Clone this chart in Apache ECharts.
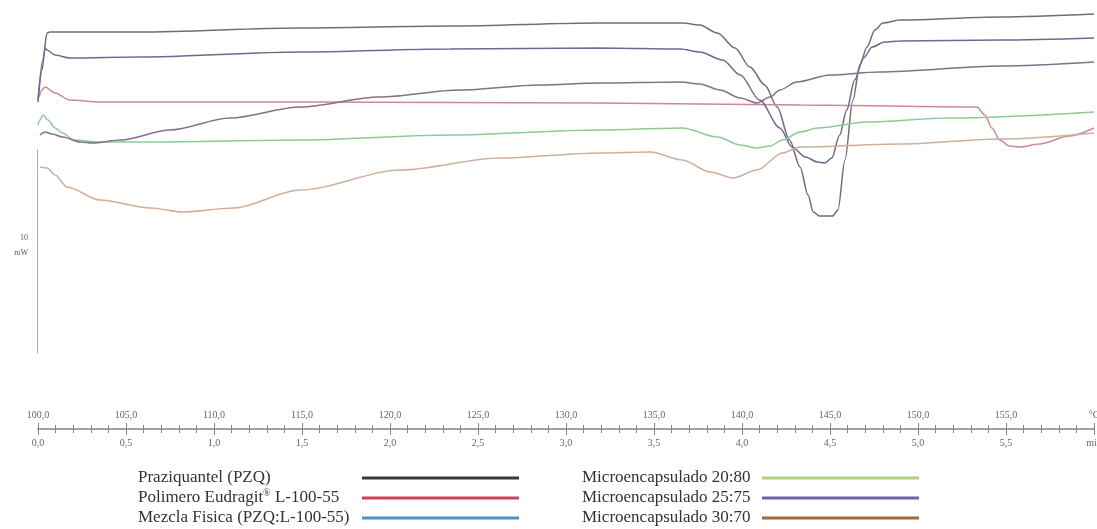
<!DOCTYPE html>
<html>
<head>
<meta charset="utf-8">
<script src="https://cdn.jsdelivr.net/npm/echarts@6/dist/echarts.min.js"></script>
<style>
  html, body { margin: 0; background: #fff; }
  #chart { width: 1097px; height: 529px; }
</style>
</head>
<body>
<div id="chart"></div>
<script>
// temperature (°C) / heat flow (offset mW)
const praziquantel = [[100.0,30.0],[100.28,34.0],[100.51,36.7],[100.68,36.8],[105.8,36.8],[114.9,37.2],[123.4,37.4],[131.9,37.7],[136.6,37.7],[137.6,37.5],[138.6,36.7],[139.6,35.2],[140.45,33.3],[141.3,31.5],[142.0,29.3],[142.7,26.0],[143.3,23.3],[143.75,20.5],[144.05,18.8],[144.4,18.4],[145.15,18.4],[145.45,19.0],[145.85,24.0],[146.3,30.0],[146.7,33.5],[147.1,35.3],[147.55,37.0],[148.0,37.7],[149.0,38.0],[154.7,38.3],[160,38.6]];
const mezcla = [[100.0,29.8],[100.23,33.0],[100.4,35.2],[100.51,35.0],[100.97,34.5],[101.8,34.2],[105.8,34.3],[114.9,34.8],[123.4,35.1],[131.9,35.2],[136.5,35.1],[137.6,34.8],[138.9,34.0],[139.9,32.5],[141.0,30.0],[142.15,27.2],[142.85,25.3],[143.6,24.3],[144.3,23.8],[144.7,23.7],[145.1,24.2],[145.55,26.5],[145.95,29.0],[146.4,32.0],[146.9,34.2],[147.4,35.3],[148.1,35.8],[149.0,35.9],[154.7,36.0],[160,36.2]];
const polimero = [[100.06,30.3],[100.23,31.0],[100.4,31.3],[100.97,30.7],[101.8,30.0],[103.5,29.8],[114.9,29.8],[131.9,29.7],[143.3,29.5],[153.35,29.3],[153.8,28.5],[154.2,27.2],[154.65,26.0],[155.2,25.4],[155.8,25.3],[156.9,25.6],[158.6,26.4],[160,27.2]];
const micro2080 = [[100.0,27.5],[100.11,28.0],[100.28,28.5],[100.57,28.0],[100.97,27.2],[101.4,26.7],[102.0,26.0],[103.5,25.8],[106.4,25.8],[114.9,26.0],[123.4,26.5],[131.9,27.0],[136.6,27.2],[138.6,26.3],[139.9,25.5],[140.85,25.2],[141.6,25.4],[142.3,26.0],[143.3,26.8],[144.3,27.2],[147.1,27.8],[151.8,28.2],[160,28.8]];
const micro2575 = [[100.11,26.5],[100.4,26.8],[100.8,26.6],[101.4,26.3],[102.4,25.8],[103.1,25.7],[104.7,26.0],[107.5,27.0],[110.9,28.2],[114.9,29.3],[119.4,30.3],[124.0,31.0],[128.5,31.5],[131.9,31.7],[136.5,31.8],[137.6,31.6],[138.75,31.0],[139.9,30.2],[140.85,29.7],[141.6,30.3],[142.15,31.0],[143.1,31.8],[145.0,32.5],[147.8,32.8],[154.7,33.4],[160,33.8]];
const micro3070 = [[100.11,23.3],[100.51,23.2],[100.97,22.5],[101.65,21.3],[103.5,20.0],[106.4,19.2],[108.2,18.8],[111.1,19.2],[114.9,21.0],[120.6,23.0],[126.25,24.2],[131.9,24.7],[134.8,24.8],[136.6,24.0],[138.2,22.8],[139.5,22.2],[140.85,23.0],[142.3,24.7],[143.3,25.3],[149.0,25.6],[154.7,26.1],[160,26.7]];
const inicio = [[99.75,4.4],[99.94,4.7],[99.94,25.0],[99.75,25.4]];

const serieNames = ['Praziquantel (PZQ)', 'Polimero Eudragit® L-100-55', 'Mezcla Fisica (PZQ:L-100-55)',
  'Microencapsulado 20:80', 'Microencapsulado 25:75', 'Microencapsulado 30:70'];
const serieData = [praziquantel, polimero, mezcla, micro2080, micro2575, micro3070];
const curveColors = ['#6e6e78', '#cc8896', '#6c6a92', '#8ccb94', '#84708c', '#cfae9c'];
const legendColors = ['#3a3a3a', '#cc4455', '#4a90d0', '#b0d080', '#7060a8', '#9a6a40'];

const tempMin = 100, tempMax = 160, tempStep = 5;
const timeMin = 0, timeMax = 6, timeStep = 0.5;

const chart = echarts.init(document.getElementById('chart'));

const fmtNum = v => v.toFixed(1).replace('.', ',');
const serif = '"Liberation Serif", "DejaVu Serif", serif';

const series = serieData.map((d, i) => ({
  name: serieNames[i],
  type: 'line',
  data: d,
  smooth: 0.3,
  smoothMonotone: 'x',
  symbol: 'none',
  lineStyle: { color: curveColors[i], width: 1.5 },
  itemStyle: { color: curveColors[i] },
  silent: true
}));
series.push({
  type: 'line',
  data: inicio,
  clip: false,
  symbol: 'none',
  lineStyle: { color: '#8a8a8a', width: 1.5 },
  silent: true
});

function legendBlock(names, colors, left) {
  return {
    left: left, top: 476.5,
    orient: 'vertical',
    align: 'left',
    icon: 'rect',
    itemWidth: 157, itemHeight: 3,
    itemGap: 17,
    padding: 0,
    selectedMode: false,
    formatter: () => '',
    data: names.map((n, i) => ({ name: n, itemStyle: { color: colors[i] } }))
  };
}

function legendText(x, y, text) {
  return {
    type: 'text', x: x, y: y, silent: true,
    style: {
      text: text, fill: '#333', font: '17px ' + serif, verticalAlign: 'middle',
      lineHeight: 19,
      rich: { s: { fontSize: 10, fontFamily: serif, fill: '#333', verticalAlign: 'top', lineHeight: 10 } }
    }
  };
}

const tickStyle = { color: '#888' };

chart.setOption({
  animation: false,
  grid: [
    { left: 38, right: 3, top: 0, height: 400, outerBoundsMode: 'none' },
    { left: 38, right: 3, top: 428, height: 1, outerBoundsMode: 'none' }
  ],
  xAxis: [{
    gridIndex: 0, type: 'value', min: tempMin, max: tempMax, show: false
  }, {
    gridIndex: 1, type: 'value', min: tempMin, max: tempMax, interval: tempStep,
    position: 'top',
    axisLine: { show: true, lineStyle: { color: '#9a9a9a', width: 1.5 } },
    axisTick: { show: true, length: 6, lineStyle: tickStyle },
    minorTick: { show: true, splitNumber: 5, length: 4, lineStyle: tickStyle },
    splitLine: { show: false },
    axisLabel: {
      margin: 8, fontSize: 10, fontFamily: serif, color: '#666',
      showMaxLabel: true, showMinLabel: true, hideOverlap: false,
      formatter: v => v === tempMax ? '°C' : fmtNum(v)
    }
  }, {
    gridIndex: 1, type: 'value', min: timeMin, max: timeMax, interval: timeStep,
    position: 'bottom',
    axisLine: { show: true, lineStyle: { color: '#9a9a9a', width: 1.5 } },
    axisTick: { show: true, length: 6, lineStyle: tickStyle },
    minorTick: { show: true, splitNumber: 5, length: 4, lineStyle: tickStyle },
    splitLine: { show: false },
    axisLabel: {
      margin: 9, fontSize: 10, fontFamily: serif, color: '#666',
      showMaxLabel: true, showMinLabel: true, hideOverlap: false,
      formatter: v => v === timeMax ? 'min' : fmtNum(v)
    }
  }],
  yAxis: [
    { gridIndex: 0, type: 'value', min: 0, max: 40, show: false },
    { gridIndex: 1, type: 'value', min: 0, max: 1, show: false }
  ],
  legend: [
    legendBlock(serieNames.slice(0, 3), legendColors.slice(0, 3), 362),
    legendBlock(serieNames.slice(3), legendColors.slice(3), 762)
  ],
  graphic: [
    { type: 'text', x: 28, y: 238, silent: true,
      style: { text: '10', fill: '#555', font: '8px ' + serif, align: 'right', verticalAlign: 'middle' } },
    { type: 'text', x: 28, y: 253, silent: true,
      style: { text: 'mW', fill: '#555', font: '8px ' + serif, align: 'right', verticalAlign: 'middle' } },
    legendText(138, 478, 'Praziquantel (PZQ)'),
    legendText(138, 498, 'Polimero Eudragit{s|®} L-100-55'),
    legendText(138, 518, 'Mezcla Fisica (PZQ:L-100-55)'),
    legendText(582, 478, 'Microencapsulado 20:80'),
    legendText(582, 498, 'Microencapsulado 25:75'),
    legendText(582, 518, 'Microencapsulado 30:70')
  ],
  series: series
});
</script>
</body>
</html>
